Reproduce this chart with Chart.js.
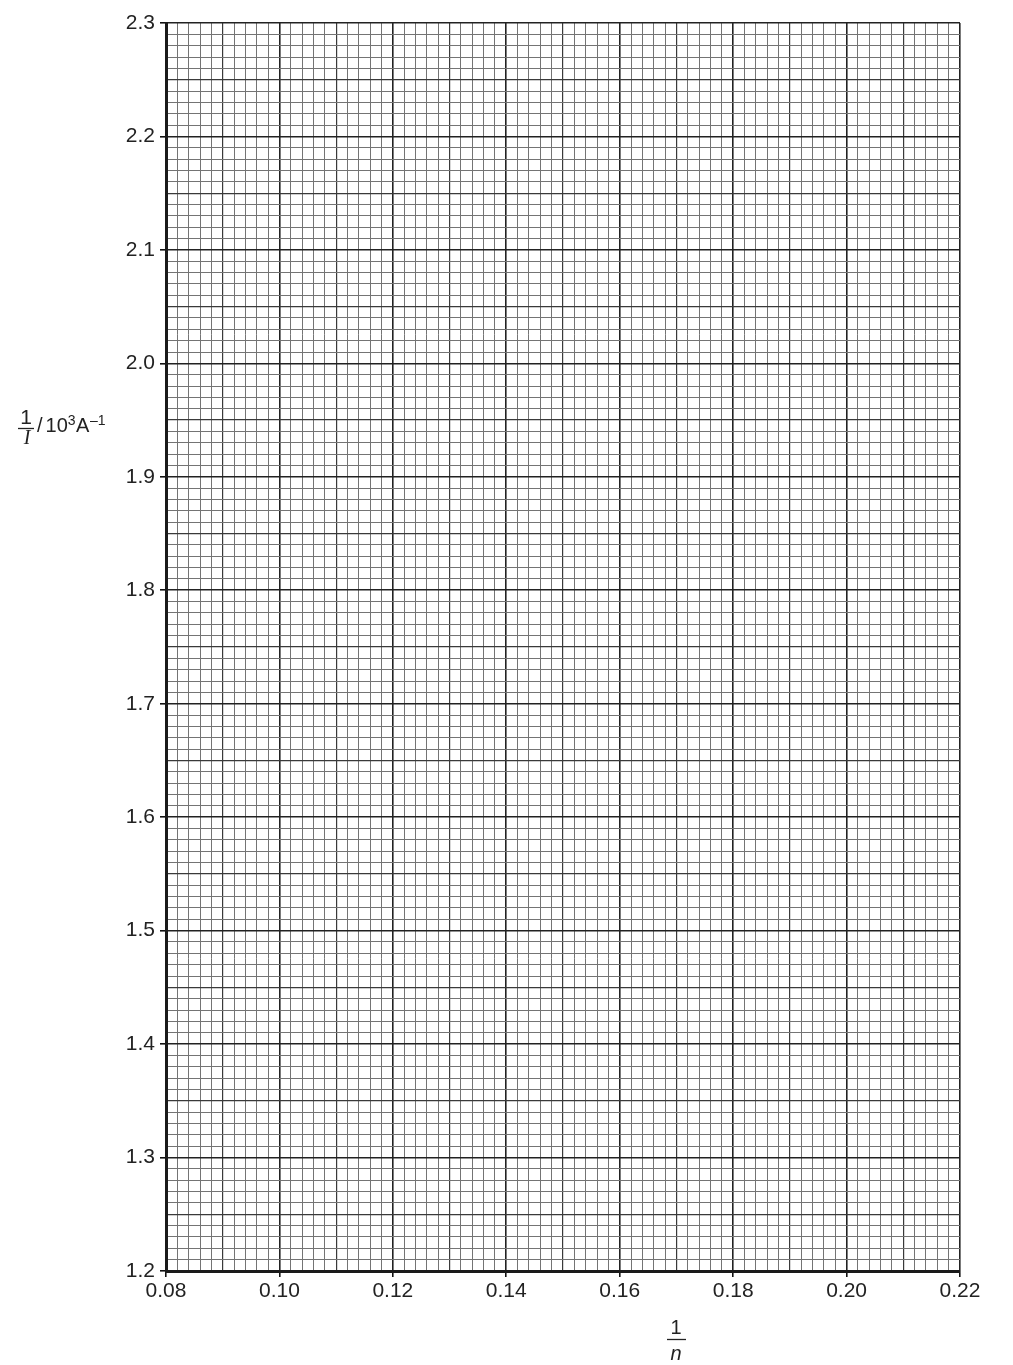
<!DOCTYPE html>
<html>
<head>
<meta charset="utf-8">
<script src="https://cdn.jsdelivr.net/npm/chart.js@4/dist/chart.umd.min.js"></script>
<style>
html, body { margin: 0; padding: 0; background: #fff; }
#wrap { width: 1013px; height: 1365px; position: relative; }
</style>
</head>
<body>
<div id="wrap"><canvas id="chart"></canvas></div>
<script>
// labelled values on each axis
var xLabels = ['0.08', '0.10', '0.12', '0.14', '0.16', '0.18', '0.20', '0.22'];
var yLabels = ['1.2', '1.3', '1.4', '1.5', '1.6', '1.7', '1.8', '1.9', '2.0', '2.1', '2.2', '2.3'];
// smallest squares of the graph paper
var xStep = 0.002;
var yStep = 0.01;
// the sheet is blank, nothing plotted yet
var points = [];

var ink = '#222';
var sans = '"Liberation Sans", Arial, sans-serif';

// 0 = minor, 1 = half-way line, 2 = labelled line
function level(v, min, step) {
  var k = Math.round((v - min) / step);
  if (k % 10 === 0) return 2;
  if (k % 5 === 0) return 1;
  return 0;
}

function gridColor(min, step) {
  return function (c) {
    if (!c.tick) return '#777';
    var l = level(c.tick.value, min, step);
    return l === 2 ? '#222' : l === 1 ? '#3a3a3a' : '#747474';
  };
}
function gridWidth(min, step) {
  return function (c) {
    if (!c.tick) return 1;
    var l = level(c.tick.value, min, step);
    return l === 2 ? 1.6 : l === 1 ? 1.2 : 1;
  };
}
function tickColor(min, step) {
  return function (c) {
    if (!c.tick) return 'rgba(0,0,0,0)';
    return level(c.tick.value, min, step) === 2 ? '#111' : 'rgba(0,0,0,0)';
  };
}

var xMin = parseFloat(xLabels[0]), xMax = parseFloat(xLabels[xLabels.length - 1]);
var yMin = parseFloat(yLabels[0]), yMax = parseFloat(yLabels[yLabels.length - 1]);

// axis titles written as stacked fractions
var titles = {
  id: 'titles',
  afterDraw: function (chart) {
    var ctx = chart.ctx;
    ctx.save();
    ctx.fillStyle = ink;
    ctx.strokeStyle = ink;
    ctx.lineWidth = 1.3;
    ctx.textBaseline = 'alphabetic';

    // y title: 1/I / 10^3 A^-1
    ctx.textAlign = 'center';
    ctx.font = '21px ' + sans;
    ctx.fillText('1', 26, 424);
    ctx.beginPath(); ctx.moveTo(18, 428.5); ctx.lineTo(34, 428.5); ctx.stroke();
    ctx.font = 'italic 20px "Liberation Serif", "Times New Roman", serif';
    ctx.fillText('I', 27, 444);

    ctx.textAlign = 'left';
    var x = 37, base = 432;
    ctx.font = '20px ' + sans;
    ctx.fillText('/', x, base); x += ctx.measureText('/').width + 3;
    ctx.fillText('10', x, base); x += ctx.measureText('10').width;
    ctx.font = '14px ' + sans;
    ctx.fillText('3', x, base - 7); x += ctx.measureText('3').width + 0.5;
    ctx.font = '20px ' + sans;
    ctx.fillText('A', x, base); x += ctx.measureText('A').width + 0.5;
    ctx.font = '14px ' + sans;
    ctx.fillText('\u20131', x, base - 7);

    // x title: 1/n
    ctx.textAlign = 'center';
    ctx.font = '20px ' + sans;
    ctx.fillText('1', 676, 1334);
    ctx.beginPath(); ctx.moveTo(667, 1339.5); ctx.lineTo(686, 1339.5); ctx.stroke();
    ctx.font = 'italic 20px ' + sans;
    ctx.fillText('n', 676, 1360);
    ctx.restore();
  }
};

var ctx = document.getElementById('chart').getContext('2d');
var chart = new Chart(ctx, {
  type: 'scatter',
  data: {
    datasets: [{ data: points, pointRadius: 3, backgroundColor: ink }]
  },
  options: {
    responsive: true,
    maintainAspectRatio: false,
    animation: false,
    layout: { padding: { left: 0, top: 23, right: 53, bottom: 0 } },
    plugins: { legend: { display: false }, tooltip: { enabled: false } },
    scales: {
      x: {
        type: 'linear',
        min: xMin,
        max: xMax,
        afterFit: function (s) { s.height = 94; },
        ticks: {
          stepSize: xStep,
          autoSkip: false,
          maxRotation: 0,
          minRotation: 0,
          padding: 2,
          color: ink,
          font: { family: sans, size: 21 },
          callback: function (v) {
            var t = v.toFixed(2);
            return xLabels.indexOf(t) >= 0 && level(v, xMin, xStep) === 2 ? t : '';
          }
        },
        grid: {
          color: gridColor(xMin, xStep),
          lineWidth: gridWidth(xMin, xStep),
          tickColor: tickColor(xMin, xStep),
          tickLength: 6,
          tickWidth: 1.6
        },
        border: { display: true, color: '#1a1a1a', width: 3 }
      },
      y: {
        type: 'linear',
        min: yMin,
        max: yMax,
        afterFit: function (s) { s.width = 166; },
        ticks: {
          stepSize: yStep,
          autoSkip: false,
          padding: 5,
          color: ink,
          font: { family: sans, size: 21 },
          callback: function (v) {
            var t = v.toFixed(1);
            return yLabels.indexOf(t) >= 0 && level(v, yMin, yStep) === 2 ? t : '';
          }
        },
        grid: {
          color: gridColor(yMin, yStep),
          lineWidth: gridWidth(yMin, yStep),
          tickColor: tickColor(yMin, yStep),
          tickLength: 6,
          tickWidth: 1.6
        },
        border: { display: true, color: '#1a1a1a', width: 3 }
      }
    }
  },
  plugins: [titles]
});
</script>
</body>
</html>
